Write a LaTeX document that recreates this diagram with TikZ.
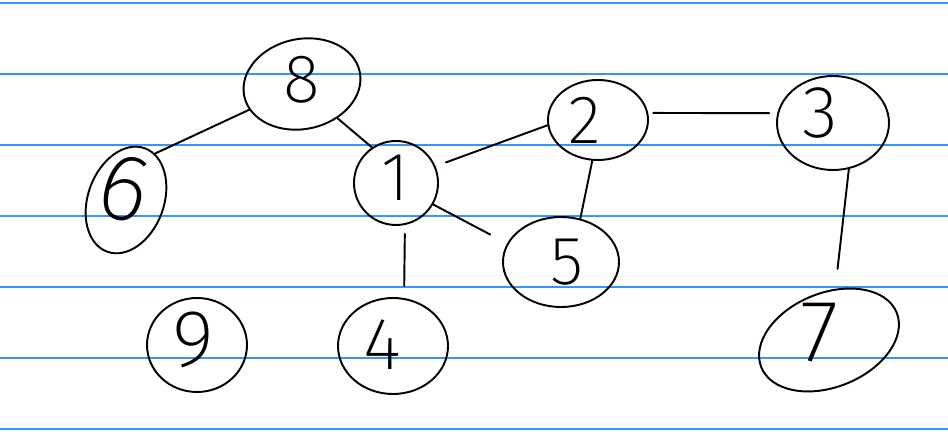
\documentclass[tikz,border=0pt]{standalone}
\usepackage{fontspec}
\usetikzlibrary{shapes.geometric}
% thin hand-like numerals, falling back to heavier weights if needed
\IfFontExistsTF{Fira Sans ExtraLight}
  {\newfontfamily\handfont{Fira Sans ExtraLight}}
  {\IfFontExistsTF{Fira Sans Light}
    {\newfontfamily\handfont{Fira Sans Light}}
    {\newfontfamily\handfont{Fira Sans}}}
\definecolor{ruleblue}{RGB}{50,150,250}
\tikzset{
  vtx/.style 2 args={ellipse, draw=black, line width=1.1pt, inner sep=0pt,
    minimum width=#1*0.02cm, minimum height=#2*0.02cm},
  digit/.style={inner sep=0pt, font=\handfont\fontsize{#1}{#1}\selectfont},
  digit/.default=39,
  edge/.style={draw=black, line width=1.1pt, line cap=round},
  ruling/.style={draw=ruleblue, line width=1.0pt}
}
\begin{document}
\begin{tikzpicture}[x=0.02cm, y=0.02cm]
  \useasboundingbox (0,0) rectangle (948,436);
  % ruled paper
  \foreach \yy in {6.7,77.7,148.7,219.7,290.7,361.7,432.7}
    \draw[ruling] (0,\yy) -- (948,\yy);

  % vertices
  \node[vtx={118}{90}, rotate=12]  (n8) at (302,352) {};
  \node[vtx={76}{110}, rotate=-20] (n6) at (126,236) {};
  \node[vtx={84}{84}]              (n1) at (396,253) {};
  \node[vtx={100}{80}]             (n2) at (598,316) {};
  \node[vtx={112}{94}]             (n3) at (833,313) {};
  \node[vtx={116}{90}]             (n5) at (561,174) {};
  \node[vtx={100}{94}]             (n9) at (197,91)  {};
  \node[vtx={110}{96}]             (n4) at (393,90)  {};
  \node[vtx={146}{94}, rotate=22]  (n7) at (829,96)  {};

  % numerals
  \node[digit]                (l8) at (302,356) {8};
  \node[digit=54, rotate=-15] (l6) at (124,248) {6};
  \node[digit]                (l1) at (395,258) {1};
  \node[digit]                (l2) at (585,316) {2};
  \node[digit=42]             (l3) at (820,323) {3};
  \node[digit]                (l5) at (567,174) {5};
  \node[digit=46]             (l9) at (193,96)  {9};
  \node[digit=42]             (l4) at (382,91)  {4};
  \node[digit=50]             (l7) at (820,103) {7};

  % edges
  \draw[edge] (n8.194) -- (n6.78);
  \draw[edge] (n8.304) -- (n1.124);
  \draw[edge, shorten <=11*0.02cm] (n1.23) -- (n2.186);
  \draw[edge, shorten >=19*0.02cm] (n1.330) -- (n5.161);
  \draw[edge, shorten <=9*0.02cm, shorten >=12*0.02cm] (n1.282) -- (n4.77);
  \draw[edge] (n2.262) -- (n5.66);
  \draw[edge, shorten <=5*0.02cm, shorten >=8*0.02cm] (n2.8) -- (n3.170);
  \draw[edge, shorten >=20*0.02cm] (n3.289) -- (n7.61);
\end{tikzpicture}
\end{document}
